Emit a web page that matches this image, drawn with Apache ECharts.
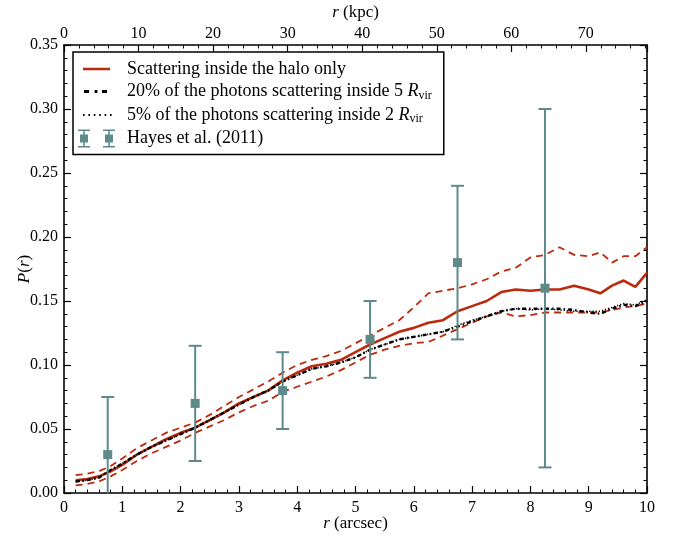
<!DOCTYPE html>
<html><head><meta charset="utf-8">
<script src="https://cdn.jsdelivr.net/npm/echarts@6/dist/echarts.min.js"></script>
<style>html,body{margin:0;padding:0;background:#fff}#c{width:676px;height:537px}</style>
</head><body><div id="c"></div>
<script>
// ---- data ----
const rArcsec  = [0.2,0.4,0.6,0.8,1.0,1.25,1.5,1.75,2.0,2.25,2.5,2.75,3.0,3.25,3.5,3.75,4.0,4.25,4.5,4.75,5.0,5.25,5.5,5.75,6.0,6.25,6.5,6.75,7.0,7.25,7.5,7.75,8.0,8.25,8.5,8.75,9.0,9.2,9.4,9.6,9.8,10.0];
const haloOnly = [0.010,0.011,0.013,0.017,0.022,0.030,0.036,0.042,0.047,0.051,0.057,0.063,0.070,0.075,0.080,0.088,0.094,0.099,0.101,0.104,0.110,0.116,0.121,0.126,0.129,0.133,0.135,0.142,0.146,0.150,0.157,0.159,0.158,0.159,0.159,0.162,0.159,0.156,0.162,0.166,0.161,0.172];
const haloUpper = [0.014,0.015,0.017,0.021,0.027,0.035,0.041,0.047,0.051,0.055,0.061,0.068,0.075,0.081,0.087,0.094,0.100,0.104,0.107,0.111,0.117,0.123,0.129,0.135,0.145,0.156,0.158,0.160,0.163,0.167,0.173,0.176,0.184,0.186,0.192,0.186,0.185,0.188,0.180,0.185,0.185,0.192];
const haloLower = [0.006,0.007,0.009,0.013,0.018,0.025,0.031,0.036,0.041,0.047,0.052,0.057,0.063,0.068,0.072,0.079,0.083,0.087,0.091,0.096,0.102,0.108,0.112,0.115,0.117,0.118,0.123,0.128,0.133,0.138,0.141,0.138,0.139,0.141,0.141,0.141,0.141,0.141,0.143,0.145,0.146,0.148];
const scat20 = [0.009,0.010,0.012,0.018,0.023,0.030,0.036,0.041,0.046,0.051,0.057,0.063,0.069,0.075,0.080,0.087,0.092,0.097,0.099,0.102,0.106,0.112,0.116,0.120,0.122,0.124,0.126,0.130,0.134,0.138,0.142,0.144,0.144,0.144,0.144,0.143,0.141,0.140,0.144,0.147,0.146,0.150];
const scat5  = [0.009,0.010,0.012,0.018,0.023,0.030,0.036,0.041,0.046,0.051,0.057,0.063,0.069,0.075,0.080,0.087,0.092,0.097,0.099,0.102,0.106,0.112,0.116,0.120,0.122,0.124,0.126,0.131,0.135,0.138,0.142,0.144,0.143,0.144,0.143,0.142,0.142,0.142,0.145,0.148,0.147,0.151];
const hayesR   = [0.75,2.25,3.75,5.25,6.75,8.25];
const hayesP   = [0.03,0.07,0.08,0.12,0.18,0.16];
const hayesErr = [0.045,0.045,0.03,0.03,0.06,0.14];
const kpcPerArcsec = 7.82;
const legendNames = ['Scattering inside the halo only','20% of the photons scattering inside 5 ','5% of the photons scattering inside 2 ','Hayes et al. (2011)'];

const RED = '#bb2a0c', EB = '#5f8a8a', FONT = 'Liberation Serif';
const pairs = ys => rArcsec.map((x,i)=>[x, ys[i]]);

const chart = echarts.init(document.getElementById('c'), null, {renderer:'canvas'});
const axisCommon = {
  axisLine:{show:true, onZero:false, lineStyle:{color:'#000', width:1.6}},
  axisTick:{show:true, inside:true, length:7, lineStyle:{color:'#000', width:1.2}},
  minorTick:{show:true, splitNumber:5, length:3.5, lineStyle:{color:'#000', width:1}},
  splitLine:{show:false},
  nameMoveOverlap:false,
  axisLabel:{color:'#000', fontFamily:FONT, fontSize:16},
  nameTextStyle:{color:'#000', fontFamily:FONT, fontSize:17, rich:{i:{fontStyle:'italic', fontFamily:FONT, fontSize:17}}}
};
// legend icons, all in a 37x18 box (tiny corner marks fix the box)
const box = 'M0,0h0.01v0.01h-0.01ZM36.99,17.99h0.01v0.01h-0.01Z';
const redIcon = 'path://' + box + 'M5,7.7h27v2.6h-27Z';
const dashDotIcon = 'path://' + box + 'M6,7.6h5v2.8h-5ZM16.6,7.6h2.8v2.8h-2.8ZM24,7.6h5v2.8h-5Z';
const dotIcon = 'path://' + box + 'M5,8h1.6v2h-1.6ZM10.4,8h1.6v2h-1.6ZM15.8,8h1.6v2h-1.6ZM21.2,8h1.6v2h-1.6ZM26.6,8h1.6v2h-1.6ZM32,8h1.6v2h-1.6Z';
const ebIcon = 'path://M0,0h12v1.6h-12ZM5.2,0h1.6v18h-1.6ZM0,16.4h12v1.6h-12ZM2,5h8v8h-8Z' +
               'M25,0h12v1.6h-12ZM30.2,0h1.6v18h-1.6ZM25,16.4h12v1.6h-12ZM27,5h8v8h-8Z';

chart.setOption({
  animation:false,
  backgroundColor:'#fff',
  grid:{left:64, right:29, top:45, bottom:44, outerBoundsMode:'none', containLabel:false},
  xAxis:[
    Object.assign({}, axisCommon, {type:'value', position:'bottom', min:0, max:10, interval:1,
      name:'{i|r} (arcsec)', nameLocation:'middle', nameGap:22,
      axisLabel:Object.assign({}, axisCommon.axisLabel, {margin:7})}),
    Object.assign({}, axisCommon, {type:'value', position:'top', min:0, max:10*kpcPerArcsec, interval:10,
      name:'{i|r} (kpc)', nameLocation:'middle', nameGap:24,
      axisLabel:Object.assign({}, axisCommon.axisLabel, {margin:3, showMaxLabel:false,
        formatter:v => (Math.abs(v % 10) < 1e-6 ? String(v) : '')})})
  ],
  yAxis:[
    Object.assign({}, axisCommon, {type:'value', position:'left', min:0, max:0.35, interval:0.05,
      name:'{i|P}({i|r})', nameLocation:'middle', nameGap:31, nameRotate:90,
      axisLabel:Object.assign({}, axisCommon.axisLabel, {margin:6, formatter:v=>v.toFixed(2)})}),
    Object.assign({}, axisCommon, {type:'value', position:'right', min:0, max:0.35, interval:0.05,
      axisLabel:{show:false}})
  ],
  legend:{
    left:73, top:52, orient:'vertical',
    data:[
      {name:legendNames[0], icon:redIcon, itemStyle:{color:RED}},
      {name:legendNames[1], icon:dashDotIcon, itemStyle:{color:'#000'}},
      {name:legendNames[2], icon:dotIcon, itemStyle:{color:'#000'}},
      {name:legendNames[3], icon:ebIcon, itemStyle:{color:EB}}
    ],
    itemWidth:37, itemHeight:18, itemGap:4.5,
    padding:[8,12,7,5],
    borderColor:'#000', borderWidth:1.5, borderRadius:0, backgroundColor:'#fff',
    selectedMode:false,
    formatter: n => {
      if (n === legendNames[1] || n === legendNames[2]) return '{t|' + n + '}{i|R}{s|vir}';
      return '{t|' + n + '}';
    },
    textStyle:{color:'#000', fontFamily:FONT, fontSize:18, padding:[0,0,0,7],
      rich:{
        t:{fontFamily:FONT, fontSize:18, lineHeight:20, verticalAlign:'middle', color:'#000'},
        i:{fontFamily:FONT, fontSize:18, fontStyle:'italic', lineHeight:20, verticalAlign:'middle', color:'#000'},
        s:{fontFamily:FONT, fontSize:12, lineHeight:12, verticalAlign:'bottom', color:'#000'}
      }}
  },
  series:[
    {name:legendNames[0], type:'line', data:pairs(haloOnly), symbol:'none', smooth:false,
     lineStyle:{color:RED, width:2.6}, itemStyle:{color:RED}, z:3},
    {name:'upper', type:'line', data:pairs(haloUpper), symbol:'none',
     lineStyle:{color:RED, width:1.8, type:[7,5]}, itemStyle:{color:RED}, z:2},
    {name:'lower', type:'line', data:pairs(haloLower), symbol:'none',
     lineStyle:{color:RED, width:1.8, type:[7,5]}, itemStyle:{color:RED}, z:2},
    {name:legendNames[1], type:'line', data:pairs(scat20), symbol:'none',
     lineStyle:{color:'#000', width:2.4, type:[4,3,1.5,3]}, itemStyle:{color:'#000'}, z:4},
    {name:legendNames[2], type:'line', data:pairs(scat5), symbol:'none',
     lineStyle:{color:'#000', width:1.6, type:[1.2,2]}, itemStyle:{color:'#000'}, z:4},
    {name:legendNames[3], type:'custom', z:10,
     data:hayesR.map((x,i)=>[x, hayesP[i], hayesErr[i]]),
     itemStyle:{color:EB},
     renderItem:(params, api) => {
       const x = api.value(0), y = api.value(1), e = api.value(2);
       const c = api.coord([x,y]);
       const t = api.coord([x, y+e]);
       const lowV = y - e;
       const b = api.coord([x, Math.max(0, lowV)]);
       const st = {stroke:EB, lineWidth:2, fill:null};
       const ch = [
         {type:'line', shape:{x1:c[0], y1:t[1], x2:c[0], y2:b[1]}, style:st},
         {type:'line', shape:{x1:c[0]-6.5, y1:t[1], x2:c[0]+6.5, y2:t[1]}, style:st},
         {type:'rect', shape:{x:c[0]-4.5, y:c[1]-4.5, width:9, height:9}, style:{fill:EB}}
       ];
       if (lowV >= 0) ch.push({type:'line', shape:{x1:c[0]-6.5, y1:b[1], x2:c[0]+6.5, y2:b[1]}, style:st});
       return {type:'group', children:ch};
     }}
  ]
});
</script></body></html>
